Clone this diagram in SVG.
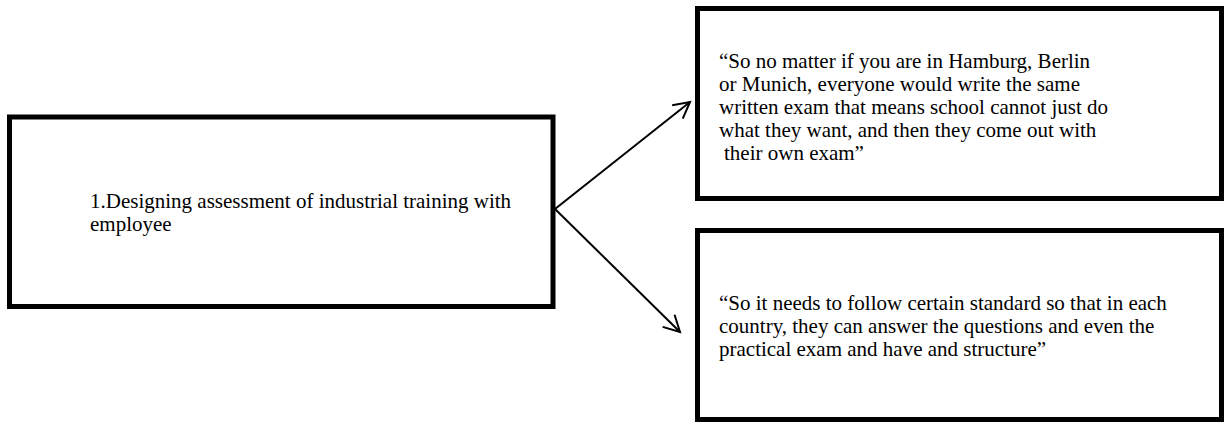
<svg xmlns="http://www.w3.org/2000/svg" width="1226" height="422" viewBox="0 0 1226 422">
<style>
.box{fill:#fff;stroke:#000;stroke-width:5}
.t{font-family:"Liberation Serif","Times New Roman",serif;font-size:21px;fill:#000}
.conn{stroke:#000;stroke-width:2;fill:none}
</style>
<defs>
<marker id="arr" markerUnits="userSpaceOnUse" orient="auto" refX="0" refY="0" markerWidth="24" markerHeight="24" overflow="visible">
<path d="M-16,-8.5 L0,0 L-16,8.5" fill="none" stroke="#000" stroke-width="2"/>
</marker>
</defs>
<rect width="1226" height="422" fill="#fff"/>
<g id="node-main">
<rect class="box" x="9.5" y="117" width="543.5" height="189.5"/>
<text class="t" x="90" y="208">1.Designing assessment of industrial training with</text>
<text class="t" x="90" y="231">employee</text>
</g>
<g id="node-quote1">
<rect class="box" x="697.5" y="8.5" width="524" height="190"/>
<text class="t" x="719" y="68">“So no matter if you are in Hamburg, Berlin</text>
<text class="t" x="719" y="91">or Munich, everyone would write the same</text>
<text class="t" x="719" y="114">written exam that means school cannot just do</text>
<text class="t" x="719" y="137">what they want, and then they come out with</text>
<text class="t" x="724" y="160">their own exam”</text>
</g>
<g id="node-quote2">
<rect class="box" x="697.5" y="230.5" width="524" height="189"/>
<text class="t" x="719" y="310">“So it needs to follow certain standard so that in each</text>
<text class="t" x="719" y="333">country, they can answer the questions and even the</text>
<text class="t" x="719" y="356">practical exam and have and structure”</text>
</g>
<g id="connectors">
<line class="conn" x1="555" y1="209" x2="690" y2="102" marker-end="url(#arr)"/>
<line class="conn" x1="555" y1="209" x2="680" y2="332" marker-end="url(#arr)"/>
</g>
</svg>
